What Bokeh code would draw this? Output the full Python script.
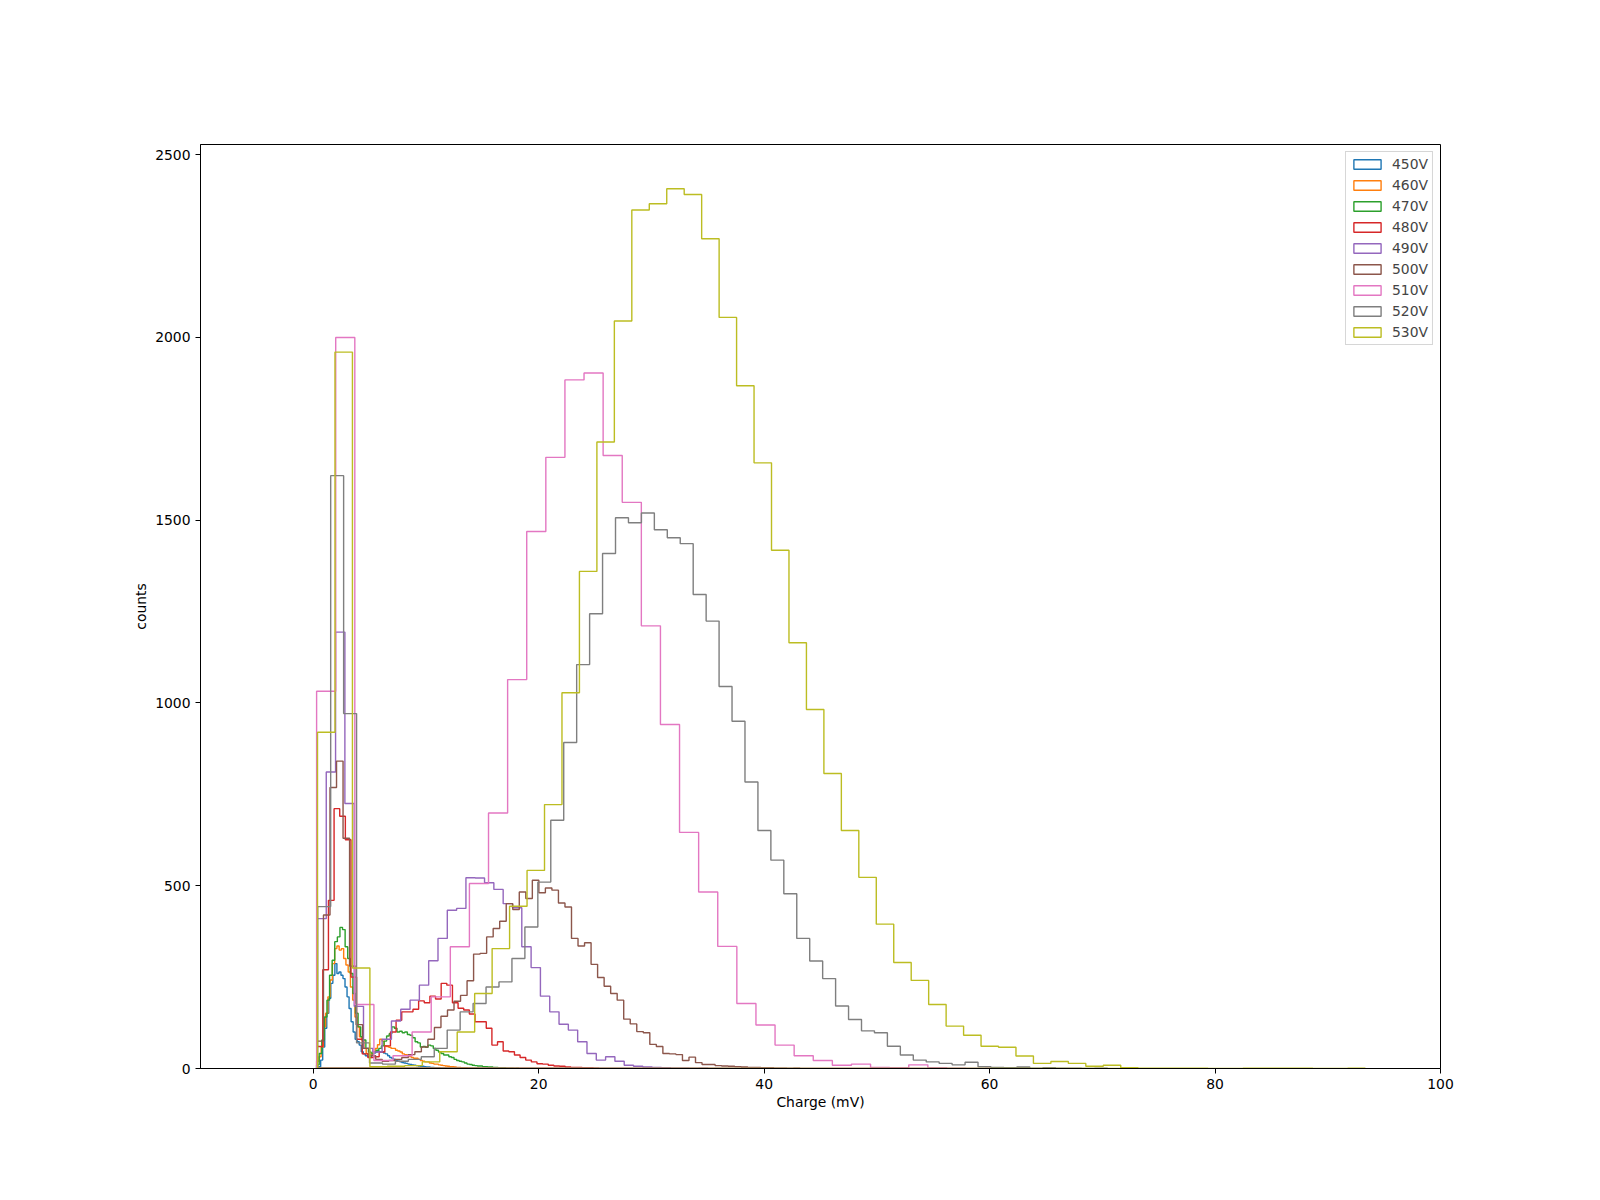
import numpy as np
from bokeh.plotting import figure
from bokeh.models import Range1d, FixedTicker, Legend, LegendItem
from bokeh.embed import file_html
from bokeh.resources import INLINE

# ---------------- data ----------------
labels = ["450V", "460V", "470V", "480V", "490V", "500V", "510V", "520V", "530V"]
colors = ["#1f77b4", "#ff7f0e", "#2ca02c", "#d62728", "#9467bd",
          "#8c564b", "#e377c2", "#7f7f7f", "#bcbd22"]

# first bin edge and bin width (mV) of each histogram
bin_start = [0.30, 0.30, 0.30, 0.35, 0.33, 0.33, 0.30, 0.40, 0.38]
bin_width = [0.18, 0.20, 0.23, 0.50, 0.826, 0.579, 1.6945, 1.1485, 1.549]

counts_450 = [3, 5, 23, 59, 110, 151, 192, 233, 255, 287, 260, 264, 255, 246, 223,
              196, 164, 128, 100, 80, 73, 64, 46, 40, 35, 33, 30, 38, 42, 45, 47, 44,
              46, 42, 40, 35, 30, 28, 25, 22, 20, 18, 16, 15, 14, 12, 11, 10, 9, 8, 7,
              6, 6, 5, 4, 4, 3, 3, 2, 2, 2, 1, 1, 1, 0, 1]
counts_460 = [20, 32, 59, 114, 151, 196, 242, 287, 328, 335, 324, 328, 301, 283, 264,
              223, 187, 141, 114, 87, 78, 55, 41, 38, 40, 45, 55, 65, 80, 75, 62, 60,
              58, 55, 55, 50, 48, 45, 40, 38, 37, 33, 30, 28, 28, 25, 22, 20, 18, 18,
              15, 14, 12, 12, 10, 9, 8, 7, 6, 5, 5, 4, 3, 3, 2, 2, 2, 1, 1, 1, 0, 1]
counts_470 = [10, 41, 78, 141, 187, 255, 296, 347, 360, 386, 380, 333, 301, 260, 205,
              151, 114, 87, 78, 55, 45, 42, 45, 50, 55, 62, 75, 89, 95, 114, 110, 100,
              102, 98, 100, 93, 91, 84, 73, 70, 59, 60, 58, 64, 62, 55, 50, 45, 41, 37,
              37, 32, 30, 25, 22, 20, 18, 15, 12, 11, 9, 8, 7, 7, 5, 5, 4, 4, 3, 3, 2,
              2, 2, 1, 1, 1, 0, 1]
counts_480 = [60, 270, 460, 711, 690, 626, 250, 80, 40, 30, 32, 45, 62, 100, 132, 155,
              155, 162, 185, 180, 198, 190, 233, 228, 180, 165, 160, 149, 128, 128, 110,
              64, 73, 48, 46, 37, 30, 23, 18, 13, 12, 9, 7, 6, 4, 3, 3, 2, 2, 1]
counts_490 = [410, 811, 1194, 725, 170, 55, 45, 80, 130, 162, 187, 228, 295, 356, 433,
              438, 522, 521, 508, 490, 451, 440, 333, 276, 198, 155, 121, 105, 73, 41,
              23, 32, 20, 9, 6, 4, 3, 2, 1, 1, 0, 1]
counts_500 = [75, 420, 769, 841, 630, 280, 120, 55, 35, 25, 20, 22, 25, 30, 38, 46, 59,
              80, 112, 143, 160, 184, 200, 240, 313, 315, 360, 383, 403, 451, 435, 483,
              465, 515, 481, 494, 488, 453, 442, 356, 335, 344, 285, 249, 225, 205, 187,
              135, 122, 101, 98, 66, 60, 41, 40, 38, 22, 31, 16, 11, 11, 8, 7, 6, 5, 4,
              3, 3, 2, 2, 1, 1, 0, 1]
counts_510 = [1032, 2000, 175, 22, 35, 100, 196, 333, 506, 699, 1064, 1469, 1672, 1884,
              1903, 1677, 1549, 1211, 941, 646, 483, 334, 178, 119, 64, 35, 22, 9, 12,
              3, 2, 10, 2, 1, 0, 1]
counts_520 = [443, 1622, 971, 70, 15, 12, 20, 25, 32, 55, 105, 155, 178, 223, 237, 301,
              387, 510, 679, 892, 1105, 1244, 1409, 1507, 1493, 1520, 1474, 1452, 1436,
              1297, 1224, 1045, 950, 784, 651, 570, 478, 356, 294, 246, 171, 134, 103,
              98, 61, 37, 23, 18, 14, 10, 17, 5, 3, 2, 4, 1, 2, 1, 1, 0, 1]
counts_530 = [920, 1960, 275, 5, 6, 8, 18, 46, 100, 205, 328, 444, 542, 722, 1028, 1360,
              1714, 2045, 2349, 2366, 2407, 2391, 2270, 2055, 1868, 1657, 1418, 1165,
              982, 807, 651, 523, 395, 290, 241, 175, 116, 91, 61, 58, 34, 14, 19, 14,
              6, 9, 2, 1, 1, 1, 1, 0, 0, 1, 1, 1, 1, 0, 0, 1]

all_counts = [counts_450, counts_460, counts_470, counts_480, counts_490,
              counts_500, counts_510, counts_520, counts_530]

x_ticks = [0, 20, 40, 60, 80, 100]
y_ticks = [0, 500, 1000, 1500, 2000, 2500]

# ---------------- figure ----------------
FONT = "DejaVu Sans"
p = figure(width=1584, height=1184, output_backend="svg", toolbar_location=None,
           x_range=Range1d(-10, 100), y_range=Range1d(0, 2528),
           min_border_left=200, min_border_right=144,
           min_border_top=144, min_border_bottom=116)
p.background_fill_color = "white"
p.border_fill_color = "white"
p.xgrid.visible = False
p.ygrid.visible = False
p.outline_line_color = "black"
p.outline_line_width = 1
p.outline_line_alpha = 1

for ax in (p.xaxis[0], p.yaxis[0]):
    ax.axis_line_color = "black"
    ax.major_tick_line_color = "black"
    ax.major_tick_out = 5
    ax.major_tick_in = 0
    ax.minor_tick_line_color = None
    ax.major_label_text_font = FONT
    ax.major_label_text_font_size = "13.9px"
    ax.major_label_text_color = "black"
    ax.axis_label_text_font = FONT
    ax.axis_label_text_font_size = "13.9px"
    ax.axis_label_text_font_style = "normal"
    ax.axis_label_text_color = "black"
    ax.major_label_standoff = 5

p.xaxis[0].axis_label_standoff = 2
p.yaxis[0].axis_label_standoff = 3
p.xaxis[0].ticker = FixedTicker(ticks=x_ticks)
p.yaxis[0].ticker = FixedTicker(ticks=y_ticks)
p.xaxis[0].axis_label = "Charge (mV)"
p.yaxis[0].axis_label = "counts"

items = []
for lab, col, start, width, cnt in zip(labels, colors, bin_start, bin_width, all_counts):
    c = np.asarray(cnt, dtype=float)
    edges = start + width * np.arange(len(c) + 1)
    xs = np.repeat(edges, 2)
    ys = np.concatenate([[0.0], np.repeat(c, 2), [0.0]])
    r = p.patch(x=xs, y=ys, fill_color=None, line_color=col, line_width=1.4)
    items.append(LegendItem(label=lab, renderers=[r]))

legend = Legend(items=items, location="top_right")
legend.label_text_font = FONT
legend.label_text_font_size = "13.9px"
legend.glyph_width = 34
legend.glyph_height = 12
legend.label_standoff = 8
legend.label_height = 16
legend.spacing = 5
legend.padding = 4
legend.margin = 7
legend.border_line_color = "#cccccc"
legend.border_line_alpha = 0.8
legend.background_fill_alpha = 0.8
p.add_layout(legend)

open("out.html", "w").write(file_html(p, INLINE))
